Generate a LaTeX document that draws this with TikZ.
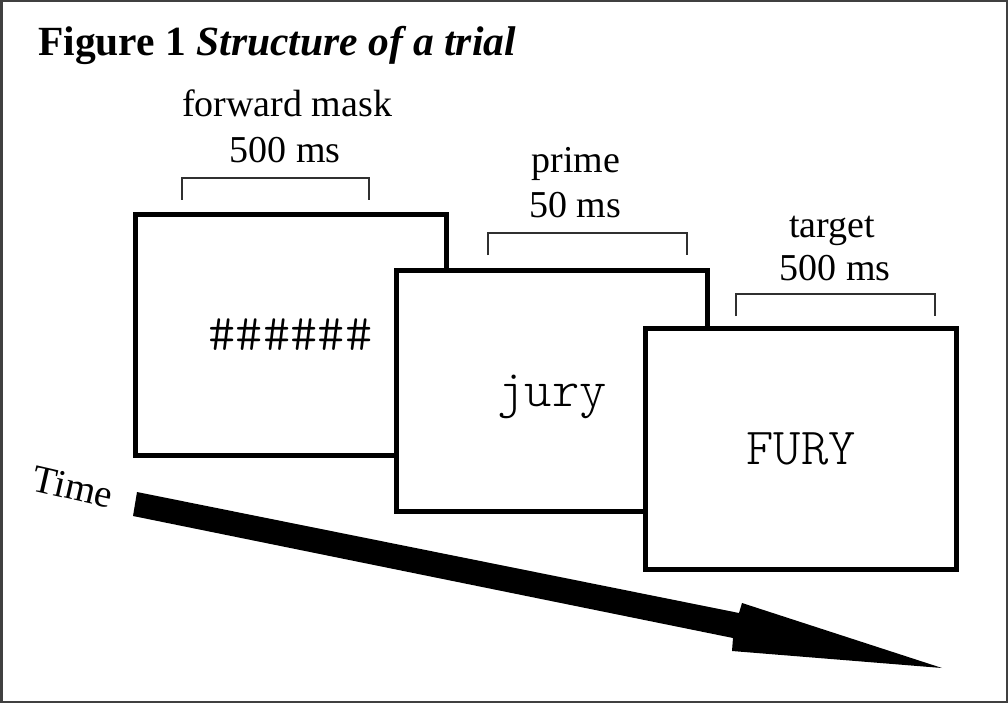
\documentclass[tikz,border=0pt]{standalone}
\usepackage{fontspec}
\setmainfont{Liberation Serif}
\newfontfamily\screenfont{Latin Modern Mono Light}
\definecolor{frame}{HTML}{404040}
\definecolor{brk}{HTML}{303030}
\tikzset{
  screen/.style={draw=black, line width=5pt, fill=white, minimum width=311pt, minimum height=241pt, inner sep=0pt,
    font=\screenfont\fontsize{52}{56}\selectfont},
  lbl/.style={anchor=base, inner sep=0pt, font=\fontsize{38}{44}\selectfont},
  brace/.style={draw=brk, line width=1.5pt},
}
\begin{document}
\begin{tikzpicture}[x=1pt,y=-1pt]
\useasboundingbox (0,0) rectangle (1008,703);
\fill[white] (0,0) rectangle (1008,703);
\draw[frame, line width=2.5pt] (1.25,1.25) rectangle (1006.75,701.75);

\node[anchor=base west, inner sep=0pt, font=\fontsize{41.5}{48}\selectfont\bfseries] (title) at (38,56) {Figure 1 \textit{Structure of a trial}};

% screens
\node[screen] (s1) at (290.5,335) {\#\#\#\#\#\#};
\node[screen, text depth=0pt] (s2) at (552,391) {jury};
\node[screen] (s3) at (801,448.5) {FURY};

% brackets
\coordinate (b1a) at (182,200); \coordinate (b1b) at (369,200);
\coordinate (b2a) at (488,255); \coordinate (b2b) at (687,255);
\coordinate (b3a) at (736,316); \coordinate (b3b) at (935,316);
\draw[brace] (b1a) -- ++(0,-22) -| (b1b);
\draw[brace] (b2a) -- ++(0,-22) -| (b2b);
\draw[brace] (b3a) -- ++(0,-22) -| (b3b);

% labels
\node[lbl] (l1a) at (287,117) {forward mask};
\node[lbl] (l1b) at (285,163) {500 ms};
\node[lbl] (l2a) at (576,173) {prime};
\node[lbl] (l2b) at (575,218) {50 ms};
\node[lbl] (l3a) at (832,237) {target};
\node[lbl] (l3b) at (835,280) {500 ms};

% time arrow
\node[inner sep=0pt, rotate=-13, font=\fontsize{39}{44}\selectfont] (time) at (73,487) {Time};
\coordinate (tailT) at (137,492);
\coordinate (tailB) at (133,516);
\coordinate (tip) at (942,668);
\fill[black] (tailT) -- (739,613) -- (742,603) -- (tip) -- (732,651) -- (733,638) -- (tailB) -- cycle;
\end{tikzpicture}
\end{document}
